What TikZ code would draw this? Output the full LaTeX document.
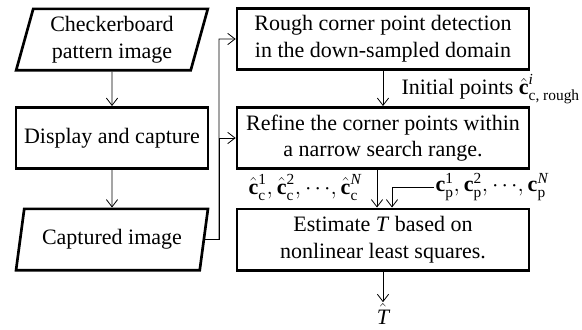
\documentclass[tikz,border=0pt]{standalone}
\usepackage{amsmath}
\usepackage{fontspec}
\setmainfont{Liberation Serif}
\usetikzlibrary{shapes.geometric,arrows.meta}

% corner points, camera side and pattern side
\newcommand{\tb}[1]{\text{\bfseries #1}}
\newcommand{\chat}[1]{\hat{\tb{c}}_{\text{c}}^{#1}}
\newcommand{\cproj}[1]{\tb{c}_{\text{p}}^{#1}}
\newcommand{\tdots}{\mathord{\cdot\mkern-1.5mu\cdot\mkern-1.5mu\cdot}}

\begin{document}
\begin{tikzpicture}[x=0.75pt,y=-0.75pt,
  every node/.style={font=\fontsize{16.5pt}{20pt}\selectfont},
  block/.style={draw,line width=2pt,align=center,inner sep=2pt},
  proc/.style={block,rectangle,minimum height=46pt},
  io/.style={block,trapezium,trapezium left angle=75,trapezium right angle=105,
    trapezium stretches,minimum width=144pt,minimum height=46pt},
  lbl/.style={inner sep=1pt},
  conn/.style={line width=0.6pt,-{Straight Barb[length=5.5pt,width=8.5pt]}}]
  \useasboundingbox (0,0) rectangle (582,329);

  % left column: input and capture
  \node[io] (pattern) at (112,39.5) {Checkerboard\\pattern image};
  \node[proc,minimum width=144pt] (display) at (112,138) {Display and capture};
  \node[io] (captured) at (112,239.5) {Captured image};

  % right column: corner detection and estimation
  \node[proc,minimum width=219pt] (rough) at (383,39)
    {Rough corner point detection\\in the down-sampled domain};
  \node[proc,minimum width=219pt] (refine) at (383,138)
    {Refine the corner points within\\a narrow search range.};
  \node[proc,minimum width=219pt] (estimate) at (383,239.5)
    {Estimate \textit{T} based on\\nonlinear least squares.};

  % labels on the connectors
  \node[lbl,anchor=west] (init) at (400,89)
    {Initial points $\hat{\tb{c}}_{\text{c, rough}}^{\textit{i}}$};
  \node[lbl] (ccam) at (305,187)
    {$\chat{\text{1}},\chat{\text{2}},\tdots,\chat{\textit{N}}$};
  \node[lbl] (cpat) at (492,187)
    {$\cproj{\text{1}},\cproj{\text{2}},\tdots,\cproj{\textit{N}}$};
  \node[lbl] (that) at (383,314) {$\hat{\mathit{T}}$};

  \coordinate (bus) at (219,239.5);

  \draw[conn] (pattern) -- (display);
  \draw[conn] (display) -- (captured);
  \draw[conn] (captured.east) -- (bus) |- (rough.west);
  \draw[conn] (bus) |- (refine.west);
  \draw[conn] (rough) -- (refine);
  \draw[conn] ([xshift=-4.5pt]refine.south) -- ([xshift=-4.5pt]estimate.north);
  \draw[conn] (cpat.west) -| ([xshift=6.75pt]estimate.north);
  \draw[conn] (estimate) -- (that);
\end{tikzpicture}
\end{document}
